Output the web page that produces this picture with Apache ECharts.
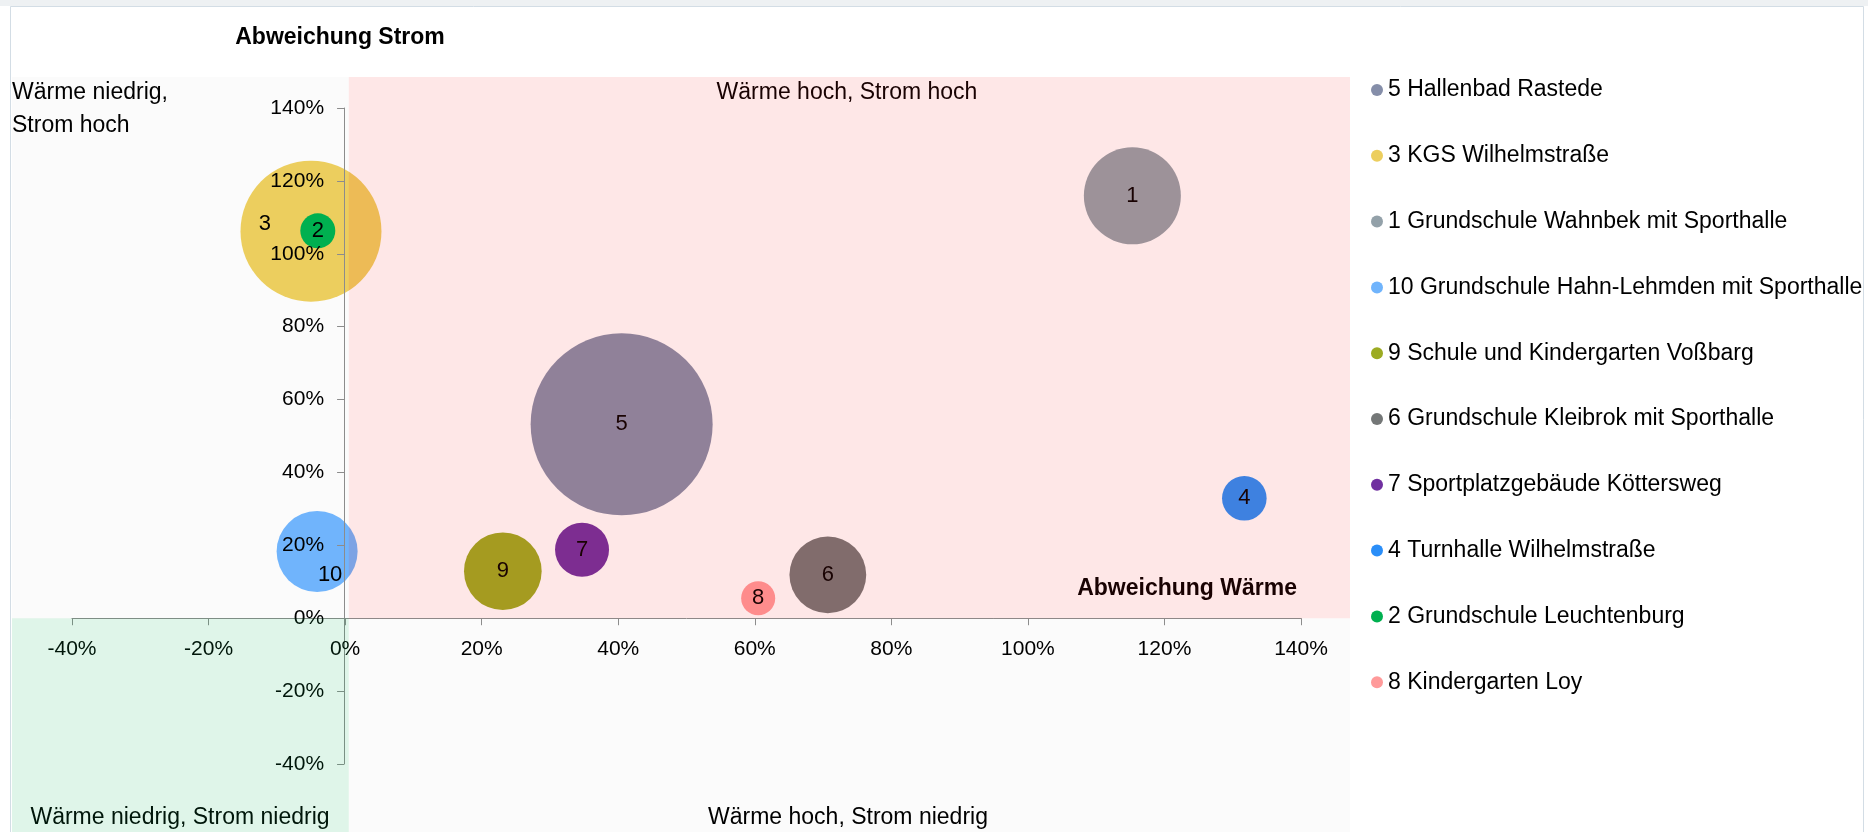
<!DOCTYPE html>
<html>
<head>
<meta charset="utf-8">
<script src="https://cdn.jsdelivr.net/npm/echarts@6/dist/echarts.min.js"></script>
<style>
html, body { margin: 0; padding: 0; background: #fff; }
#chart { width: 1868px; height: 832px; }
</style>
</head>
<body>
<div id="chart"></div>
<script>
// Gebaeude, sortiert nach Blasengroesse (wie die Legende)
var names = ['5 Hallenbad Rastede', '3 KGS Wilhelmstraße', '1 Grundschule Wahnbek mit Sporthalle',
	'10 Grundschule Hahn-Lehmden mit Sporthalle', '9 Schule und Kindergarten Voßbarg',
	'6 Grundschule Kleibrok mit Sporthalle', '7 Sportplatzgebäude Köttersweg',
	'4 Turnhalle Wilhelmstraße', '2 Grundschule Leuchtenburg', '8 Kindergarten Loy'];
var nums = ['5', '3', '1', '10', '9', '6', '7', '4', '2', '8'];
// Abweichung Waerme / Strom in %
var waerme = [40.5, -5.0, 115.3, -4.1, 23.1, 70.7, 34.7, 131.7, -4.0, 60.5];
var strom = [53.2, 106.2, 115.9, 18.3, 12.9, 11.9, 18.8, 32.9, 106.3, 5.5];
// relative Blasengroesse (Flaeche)
var groesse = [100, 60, 28.4, 19.8, 18.2, 17.8, 8.8, 6.0, 3.7, 3.5];
var colors = ['#858ea9', '#ecce5e', '#93a1a9', '#70b4fc', '#9cab22', '#747777', '#7030a0', '#2a8ef8', '#00b050', '#ff9a9a'];
var labelOffsets = [[0, 0], [-46, -7], [0, 0], [13, 23], [0, 0], [0, 0], [0, 0], [0, 0], [0, 0], [0, 0]];

var FONT = '"Liberation Sans", Arial, sans-serif';
var MAX_D = 182;
var maxSize = Math.max.apply(null, groesse);

var chart = echarts.init(document.getElementById('chart'));

var series = [];
for (var i = 0; i < names.length; i++) {
	series.push({
		name: names[i],
		type: 'scatter',
		data: [[waerme[i], strom[i], groesse[i]]],
		symbolSize: function(d) {
			return MAX_D * Math.sqrt(d[2] / maxSize);
		},
		itemStyle: { color: colors[i], opacity: 1 },
		label: {
			show: true,
			position: 'inside',
			formatter: nums[i],
			color: '#000',
			fontSize: 22,
			fontFamily: FONT,
			offset: labelOffsets[i]
		},
		emphasis: { disabled: true },
		z: 2
	});
}

function axis() {
	return {
		type: 'value',
		min: -40,
		max: 140,
		interval: 20,
		z: 3,
		axisLine: { show: true, onZero: false, lineStyle: { color: '#8c8c8c', width: 1 } },
		axisTick: { show: true, length: 7, lineStyle: { color: '#8c8c8c' } },
		axisLabel: {
			formatter: '{value}%',
			fontSize: 21,
			color: '#000',
			margin: 20,
			fontFamily: FONT,
			showMinLabel: true,
			showMaxLabel: true
		},
		splitLine: { show: false }
	};
}

chart.setOption({
	animation: false,
	grid: { left: 72, right: 567, top: 108, bottom: 68, containLabel: false },
	xAxis: axis(),
	yAxis: axis(),
	legend: {
		orient: 'vertical',
		left: 1366,
		top: 73,
		icon: 'circle',
		itemWidth: 12,
		itemHeight: 12,
		itemGap: 41.8,
		selectedMode: false,
		textStyle: { fontSize: 23, color: '#000', fontFamily: FONT, lineHeight: 24 },
		data: names
	},
	series: series
});

// Achsen durch den Nullpunkt legen
var corner = chart.convertToPixel({ gridIndex: 0 }, [-40, -40]);
var zero = chart.convertToPixel({ gridIndex: 0 }, [0, 0]);
chart.setOption({
	xAxis: { offset: -(corner[1] - zero[1]) },
	yAxis: { offset: -(zero[0] - corner[0]) }
});

// Quadranten-Hintergruende
var L = 12, T = 77, R = 1350, B = 832;

function txt(text, x, y, align, bold) {
	return {
		type: 'text',
		z: 50,
		silent: true,
		style: {
			text: text,
			x: x,
			y: y,
			textAlign: align,
			textVerticalAlign: 'middle',
			fontSize: 23,
			fontWeight: bold ? 'bold' : 'normal',
			fontFamily: FONT,
			fill: '#000'
		}
	};
}

chart.setOption({
	graphic: {
		elements: [
			{ type: 'rect', z: -10, silent: true, shape: { x: 0, y: 0, width: 1868, height: 6 }, style: { fill: '#eef1f3' } },
			{ type: 'rect', z: -10, silent: true, shape: { x: 10.5, y: 6.5, width: 1853, height: 840 }, style: { fill: '#fff', stroke: '#d3dde5', lineWidth: 1 } },
			{ type: 'rect', z: -9, silent: true, shape: { x: L, y: T, width: zero[0] - L, height: zero[1] - T }, style: { fill: '#fbfbfb' } },
			{ type: 'rect', z: -9, silent: true, shape: { x: zero[0], y: zero[1], width: R - zero[0], height: B - zero[1] }, style: { fill: '#fbfbfb' } },
			{ type: 'rect', z: 100, silent: true, shape: { x: zero[0], y: T, width: R - zero[0], height: zero[1] - T }, style: { fill: 'rgba(250,20,20,0.1)' } },
			{ type: 'rect', z: 100, silent: true, shape: { x: L, y: zero[1], width: zero[0] - L, height: B - zero[1] }, style: { fill: 'rgba(0,176,80,0.125)' } },
			txt('Abweichung Strom', 340, 38, 'center', true),
			txt('Wärme niedrig,', 12, 93, 'left', false),
			txt('Strom hoch', 12, 126, 'left', false),
			txt('Wärme hoch, Strom hoch', 847, 93, 'center', false),
			txt('Abweichung Wärme', 1297, 589, 'right', true),
			txt('Wärme niedrig, Strom niedrig', 180, 818, 'center', false),
			txt('Wärme hoch, Strom niedrig', 848, 818, 'center', false)
		]
	}
});
</script>
</body>
</html>
